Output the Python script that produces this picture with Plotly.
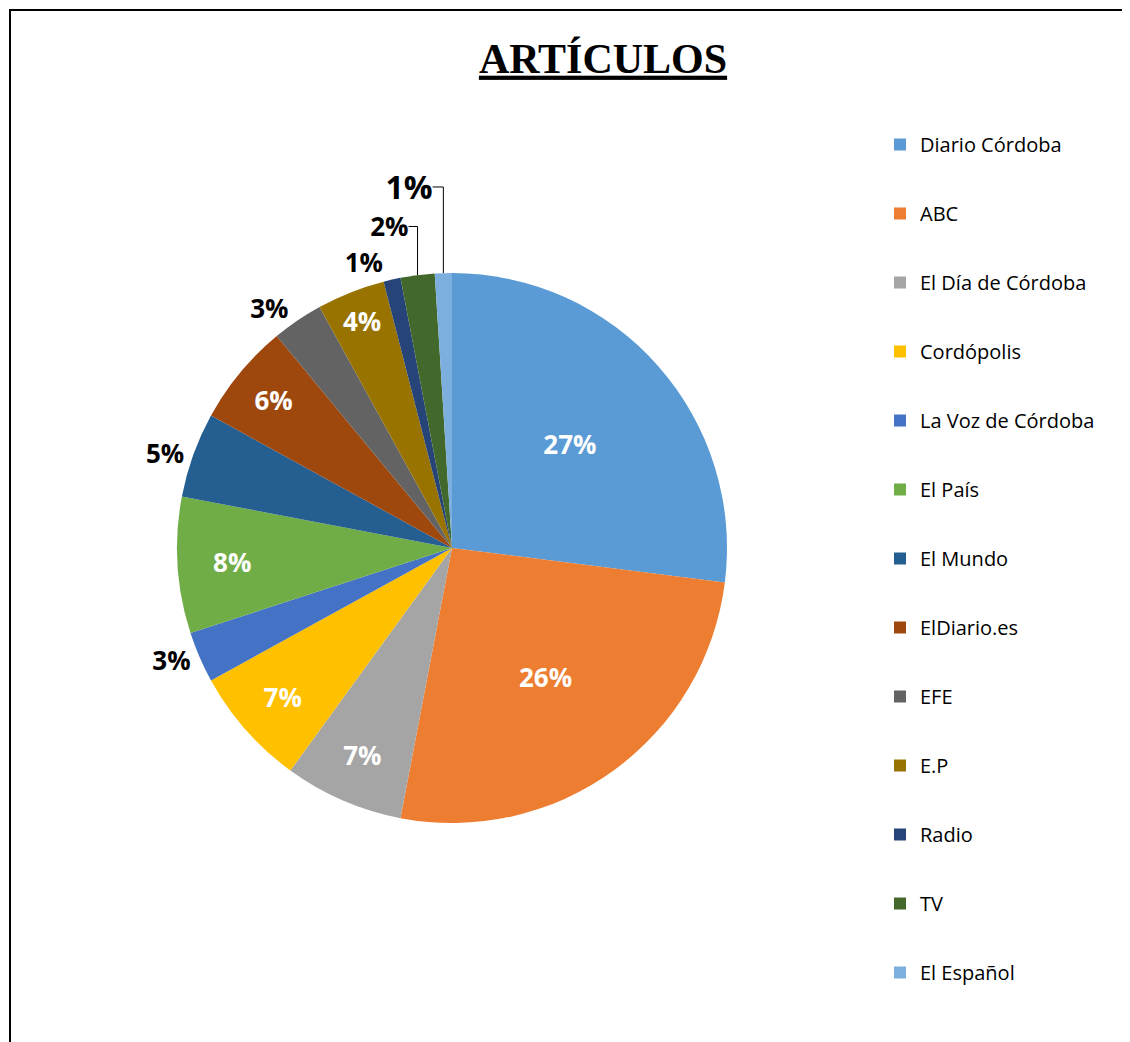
import plotly.graph_objects as go

categories = ["Diario Córdoba", "ABC", "El Día de Córdoba", "Cordópolis", "La Voz de Córdoba",
              "El País", "El Mundo", "ElDiario.es", "EFE", "E.P", "Radio", "TV", "El Español"]
values = [27, 26, 7, 7, 3, 8, 5, 6, 3, 4, 1, 2, 1]
colors = ["#5B9BD5", "#ED7D31", "#A5A5A5", "#FFC000", "#4472C4", "#70AD47", "#255E91",
          "#9E480E", "#636363", "#997300", "#264478", "#43682B", "#7CAFDD"]
positions = ["inside", "inside", "inside", "inside", "outside", "inside", "outside",
             "inside", "outside", "inside", "outside", "outside", "outside"]
text_sizes = [26, 26, 26, 26, 26, 26, 26, 26, 26, 26, 26, 26, 32]
text_colors = ["white" if p == "inside" else "black" for p in positions]

W, H = 1130, 1042
OFF = 8  # page body margin
fig = go.Figure()

cx, cy, r = 452 - OFF, 548 - OFF, 275
fig.add_trace(go.Pie(
    labels=categories, values=values, sort=False, direction="clockwise", rotation=0,
    marker=dict(colors=colors, line=dict(width=0)),
    texttemplate="%{value}%", textposition=positions,
    insidetextorientation="horizontal",
    textfont=dict(family="Open Sans", size=text_sizes, color=text_colors, weight="bold"),
    showlegend=False, hoverinfo="label+percent",
    domain=dict(x=[(cx - r) / W, (cx + r) / W], y=[1 - (cy + r) / H, 1 - (cy - r) / H]),
))

for name, c in zip(categories, colors):
    fig.add_trace(go.Scatter(
        x=[None], y=[None], mode="markers", name=name, legendgroup=name,
        marker=dict(symbol="square", size=12, color=c),
    ))

fig.update_layout(
    width=W, height=H,
    margin=dict(l=0, r=0, t=0, b=0),
    paper_bgcolor="white", plot_bgcolor="white",
    title=dict(text="<b><u>ARTÍCULOS</u></b>", x=(603 - OFF) / W, xanchor="center",
               y=1 - (58 - OFF) / H, yanchor="middle",
               font=dict(family="Liberation Serif", size=42, color="black")),
    xaxis=dict(visible=False), yaxis=dict(visible=False),
    legend=dict(x=(880 - OFF) / W, xanchor="left", y=1 - (125 - OFF) / H, yanchor="top",
                font=dict(family="Open Sans", size=20, color="black"),
                tracegroupgap=40, itemwidth=30, bgcolor="rgba(0,0,0,0)"),
    shapes=[dict(type="rect", xref="paper", yref="paper",
                 x0=(10 - OFF) / W, x1=(1127 - OFF) / W, y0=-0.05, y1=1 - (10 - OFF) / H,
                 line=dict(color="black", width=2))],
)

fig.write_html("out.html")
